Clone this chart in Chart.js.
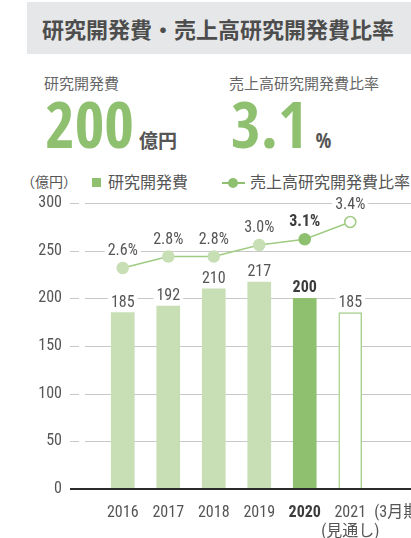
<!DOCTYPE html>
<html lang="ja">
<head>
<meta charset="utf-8">
<script src="https://cdn.jsdelivr.net/npm/chart.js@4.4.1/dist/chart.umd.min.js"></script>
<style>
  body { margin: 0; width: 411px; height: 538px; overflow: hidden; position: relative; background: #fff;
         font-family: "Noto Sans CJK JP", sans-serif; color: #555; }
  .abs { position: absolute; white-space: nowrap; }
  #head { left: 27px; top: 2px; width: 384px; height: 52px; background: #e6e7e8; }
  #head span { position: absolute; left: 15px; top: 0; line-height: 52px; font-size: 22px; font-weight: bold; color: #4d4d4d; }
  .sub { top: 74px; font-size: 15px; line-height: 18px; color: #666; }
  .big { top: 92px; font-family: "Open Sans Condensed", sans-serif; font-size: 64px; line-height: 64px; color: #8fc070; font-weight: 600; }
  .big .u { font-family: "Noto Sans CJK JP", sans-serif; font-size: 19px; color: #555; margin-left: 5px; font-weight: bold; }
  .big .p { font-family: "Open Sans Condensed", sans-serif; font-size: 21px; color: #555; margin-left: 8px; font-weight: bold; }
  .leg { top: 171px; font-size: 16px; line-height: 20px; color: #555; }
  #sq { display: inline-block; width: 9px; height: 9px; background: #8fc070; margin-right: 7px; vertical-align: 1px; }
  #ln { display: inline-block; position: relative; width: 23px; height: 10px; margin-right: 5px; vertical-align: 0; }
  #ln:before { content: ""; position: absolute; left: 0; right: 0; top: 4px; height: 2px; background: #8fc070; }
  #ln:after { content: ""; position: absolute; left: 6px; top: 0; width: 10px; height: 10px; border-radius: 50%; background: #8fc070; }
  #wrap { position: absolute; left: 0; top: 190px; width: 450px; height: 348px; }
</style>
</head>
<body>
<div id="head" class="abs"><span>研究開発費・売上高研究開発費比率</span></div>
<div class="abs sub" style="left:44px">研究開発費</div>
<div class="abs sub" style="left:229px">売上高研究開発費比率</div>
<div class="abs big" style="left:45px">200<span class="u">億円</span></div>
<div class="abs big" style="left:231px">3.1<span class="p">%</span></div>
<div class="abs leg" style="left:21px;font-size:14px">（億円）</div>
<div class="abs leg" style="left:92px"><span id="sq"></span>研究開発費</div>
<div class="abs leg" style="left:222px"><span id="ln"></span>売上高研究開発費比率</div>
<div id="wrap"><canvas id="graph"></canvas></div>

<script>
const years = ['2016', '2017', '2018', '2019', '2020', ['2021', '(見通し)'], '\u2002(3月期)'];
const spending = [185, 192, 210, 217, 200, 185, null];
const ratio = [2.6, 2.8, 2.8, 3.0, 3.1, 3.4, null];
const yTicks = [0, 50, 100, 150, 200, 250, 300];

const fam = '"Roboto Condensed", "Noto Sans CJK JP", sans-serif';
const light = '#c8dfb6';
const dark = '#8fc070';
const lineCol = '#9fcb82';

Chart.defaults.font.family = fam;
Chart.defaults.color = '#555';

//white box label like the printed chart
function tag(ctx, text, x, y, bold) {
  ctx.font = (bold ? 'bold ' : '') + '16px ' + fam;
  const w = ctx.measureText(text).width;
  ctx.fillStyle = '#fff';
  ctx.fillRect(x - w / 2 - 3, y - 8, w + 6, 16);
  ctx.fillStyle = bold ? '#3c3c3c' : '#555';
  ctx.textAlign = 'center';
  ctx.textBaseline = 'middle';
  ctx.fillText(text, x, y);
}

const decor = {
  id: 'decor',
  beforeDatasetsDraw(chart) {
    const { ctx, scales: { y } } = chart;
    ctx.save();
    ctx.strokeStyle = '#c8c8c8';
    ctx.lineWidth = 1;
    y.ticks.forEach(t => {
      if (t.value === 0) return;
      const py = Math.round(y.getPixelForValue(t.value)) + 0.5;
      ctx.beginPath();
      ctx.moveTo(70, py); ctx.lineTo(79, py);
      ctx.moveTo(85, py); ctx.lineTo(chart.width, py);
      ctx.stroke();
    });
    ctx.restore();
  },
  afterDatasetsDraw(chart) {
    const { ctx, scales: { y } } = chart;
    ctx.save();
    const py0 = y.getPixelForValue(0);
    ctx.strokeStyle = '#2b2b2b';
    ctx.lineWidth = 2;
    ctx.beginPath(); ctx.moveTo(70, py0); ctx.lineTo(chart.width, py0); ctx.stroke();

    chart.getDatasetMeta(1).data.forEach((bar, i) => {
      if (spending[i] == null) return;
      tag(ctx, String(spending[i]), bar.x, bar.y - 10, i === 4);
    });
    chart.getDatasetMeta(0).data.forEach((pt, i) => {
      if (ratio[i] == null) return;
      tag(ctx, ratio[i].toFixed(1) + '%', pt.x, pt.y - 17, i === 4);
    });
    ctx.restore();
  }
};

new Chart(document.querySelector('#graph'), {
  data: {
    labels: years,
    datasets: [{
      type: 'line',
      data: ratio,
      yAxisID: 'y2',
      order: 0,
      borderColor: lineCol,
      borderWidth: 1.5,
      pointRadius: 5.5,
      pointBorderWidth: 1.5,
      pointBackgroundColor: ratio.map((v, i) => i === 4 ? dark : i === 5 ? '#fff' : light),
      pointBorderColor: ratio.map((v, i) => i === 4 ? dark : i === 5 ? lineCol : light)
    }, {
      type: 'bar',
      data: spending,
      yAxisID: 'y',
      order: 1,
      barThickness: 23,
      backgroundColor: spending.map((v, i) => i === 4 ? dark : i === 5 ? '#fff' : light),
      borderColor: spending.map((v, i) => i === 5 ? '#a9d08e' : 'transparent'),
      borderWidth: spending.map((v, i) => i === 5 ? 1.5 : 0)
    }]
  },
  options: {
    responsive: true,
    maintainAspectRatio: false,
    animation: false,
    layout: { padding: { top: 13, right: 31.5, left: 0, bottom: 0 } },
    plugins: { legend: { display: false }, tooltip: { enabled: false } },
    scales: {
      x: {
        grid: { display: false, drawTicks: false },
        border: { display: false },
        ticks: {
          padding: 15,
          autoSkip: false,
          maxRotation: 0,
          font: c => ({ size: 16, weight: c.index === 4 ? 'bold' : 'normal', lineHeight: 1.15 }),
          color: c => c.index === 4 ? '#3c3c3c' : '#555'
        },
        afterFit: s => { s.height = 49; }
      },
      y: {
        min: 0, max: 300,
        afterBuildTicks: s => { s.ticks = yTicks.map(v => ({ value: v })); },
        grid: { display: false, drawTicks: true, tickLength: 36 },
        border: { display: false },
        ticks: { padding: 2, font: { size: 16 } },
        afterFit: s => { s.width = 100; }
      },
      y2: { display: false, min: -1.24, max: 3.73 }
    }
  },
  plugins: [decor]
});
</script>
</body>
</html>
